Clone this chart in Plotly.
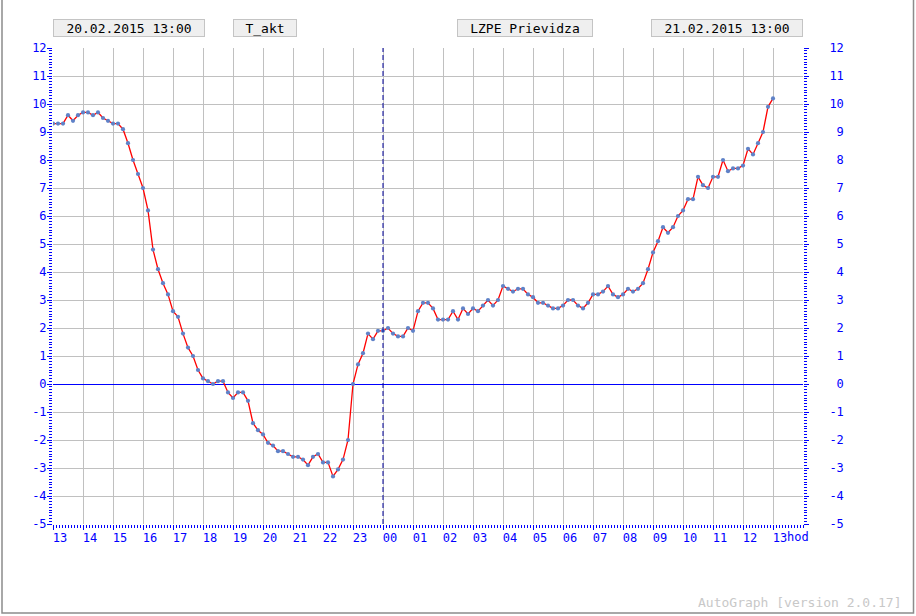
import pandas as pd
import plotly.graph_objects as go

# ---- data ----
start_time = "2015-02-20 13:00"
end_time = "2015-02-21 13:00"
step = "10min"
temperature = [
    9.3, 9.3, 9.3, 9.6, 9.4, 9.6, 9.7, 9.7, 9.6, 9.7, 9.5, 9.4, 9.3, 9.3, 9.1,
    8.6, 8.0, 7.5, 7.0, 6.2, 4.8, 4.1, 3.6, 3.2, 2.6, 2.4, 1.8, 1.3, 1.0, 0.5,
    0.2, 0.1, 0.0, 0.1, 0.1, -0.3, -0.5, -0.3, -0.3, -0.6, -1.4, -1.65, -1.8, -2.1, -2.2,
    -2.4, -2.4, -2.5, -2.6, -2.6, -2.7, -2.9, -2.6, -2.5, -2.8, -2.8, -3.3, -3.05, -2.7, -2.0,
    0.0, 0.7, 1.1, 1.8, 1.6, 1.9, 1.9, 2.0, 1.8, 1.7, 1.7, 2.0, 1.9, 2.6, 2.9,
    2.9, 2.7, 2.3, 2.3, 2.3, 2.6, 2.3, 2.7, 2.5, 2.7, 2.6, 2.8, 3.0, 2.8, 3.0,
    3.5, 3.4, 3.3, 3.4, 3.4, 3.2, 3.1, 2.9, 2.9, 2.8, 2.7, 2.7, 2.8, 3.0, 3.0,
    2.8, 2.7, 2.9, 3.2, 3.2, 3.3, 3.5, 3.2, 3.1, 3.2, 3.4, 3.3, 3.4, 3.6, 4.1,
    4.7, 5.1, 5.6, 5.4, 5.6, 6.0, 6.2, 6.6, 6.6, 7.4, 7.1, 7.0, 7.4, 7.4, 8.0,
    7.6, 7.7, 7.7, 7.8, 8.4, 8.2, 8.6, 9.0, 9.9, 10.2,
]
y_ticks = list(range(-5, 13))
y_labels_left = [str(v) for v in y_ticks]
y_labels_right = [("\u00a0" + str(v)) if len(str(v)) == 1 else str(v) for v in y_ticks]
header_left = "20.02.2015 13:00"
header_var = "T_akt"
header_station = "LZPE Prievidza"
header_right = "21.02.2015 13:00"
footer_text = "AutoGraph [version 2.0.17]"
unit_label = "hod"

times = pd.date_range(start_time, end_time, freq=step)
hour_ticks = pd.date_range(start_time, end_time, freq="h")
x_end = times[-1] + pd.Timedelta(hours=1)
midnight = pd.Timestamp(end_time).normalize()

# ---- layout geometry (pixels) ----
W, H = 916, 616
L, R, T, B = 53, 803, 48, 524

def px(xp):
    return (xp - L) / (R - L)

def py(yp):
    return (B - yp) / (B - T)

FONT = "DejaVu Sans Mono"
BLUE = "#0000ff"

fig = go.Figure()
fig.add_trace(go.Scatter(
    x=times, y=temperature, mode="lines+markers",
    line=dict(color="#ff0000", width=1.3),
    marker=dict(color="#5f82c8", size=4.2, symbol="circle"),
    yaxis="y", showlegend=False,
))
# invisible trace to activate right axis
fig.add_trace(go.Scatter(
    x=[times[0]], y=[temperature[0]], mode="markers",
    marker=dict(opacity=0), yaxis="y2", showlegend=False, hoverinfo="skip",
))

fig.add_vline(x=midnight, line=dict(color="#00009a", width=1, dash="5px,3px"))

# header boxes
for text, x0, x1 in [(header_left, 53, 205), (header_var, 233, 297),
                     (header_station, 457, 593), (header_right, 651, 803)]:
    fig.add_annotation(
        x=px((x0 + x1) / 2), y=py(28), xref="paper", yref="paper",
        text=text, showarrow=False, xanchor="center", yanchor="middle",
        width=x1 - x0 - 2, height=16, bgcolor="#efefef",
        bordercolor="#c4c4c4", borderwidth=1, borderpad=0,
        font=dict(family=FONT, size=13, color="#000000"),
    )

fig.add_annotation(
    x=times[-1], y=py(537), xref="x", yref="paper",
    text=unit_label, showarrow=False, xanchor="left", yanchor="middle",
    xshift=12, font=dict(family=FONT, size=12, color=BLUE),
)
fig.add_annotation(
    x=px(904), y=py(602), xref="paper", yref="paper", text=footer_text,
    showarrow=False, xanchor="right", yanchor="middle",
    font=dict(family=FONT, size=13, color="#c8c8c8"),
)
# outer frame
fig.add_shape(type="rect", xref="paper", yref="paper",
              x0=px(2), x1=px(913.5), y0=py(613), y1=py(-2),
              line=dict(color="#8c8c8c", width=1.5), layer="below")

fig.update_layout(
    width=W, height=H,
    margin=dict(l=L, r=W - R, t=T, b=H - B),
    paper_bgcolor="white", plot_bgcolor="white",
    font=dict(family=FONT, size=12, color=BLUE),
    xaxis=dict(
        type="date", range=[times[0], x_end],
        tickvals=hour_ticks, tickformat="%H",
        showgrid=True, gridcolor="#c0c0c0", gridwidth=1,
        ticks="outside", ticklen=5, tickcolor=BLUE, tickwidth=1,
        ticklabelshift=7, ticklabelstandoff=-2,
        minor=dict(dtick=360000, ticks="outside", ticklen=3, tickcolor=BLUE, showgrid=False),
        showline=False, zeroline=False,
        tickfont=dict(family=FONT, size=12, color=BLUE),
    ),
    yaxis=dict(
        range=[-5, 12], tickvals=y_ticks, ticktext=y_labels_left,
        showgrid=True, gridcolor="#c0c0c0", gridwidth=1,
        zeroline=True, zerolinecolor=BLUE, zerolinewidth=1,
        ticks="outside", ticklen=5, tickcolor=BLUE, tickwidth=1,
        ticklabelstandoff=-2,
        minor=dict(dtick=0.1, ticks="outside", ticklen=3, tickcolor=BLUE, showgrid=False),
        showline=False,
        tickfont=dict(family=FONT, size=12, color=BLUE),
    ),
    yaxis2=dict(
        range=[-5, 12], tickvals=y_ticks, ticktext=y_labels_right,
        overlaying="y", side="right", anchor="x",
        showgrid=False, zeroline=False,
        ticks="outside", ticklen=5, tickcolor=BLUE, tickwidth=1,
        ticklabelstandoff=18,
        minor=dict(dtick=0.1, ticks="outside", ticklen=3, tickcolor=BLUE, showgrid=False),
        showline=False,
        tickfont=dict(family=FONT, size=12, color=BLUE),
    ),
)

fig.write_html("out.html", config={"displayModeBar": False},
               post_script="document.body.style.margin='0';")
